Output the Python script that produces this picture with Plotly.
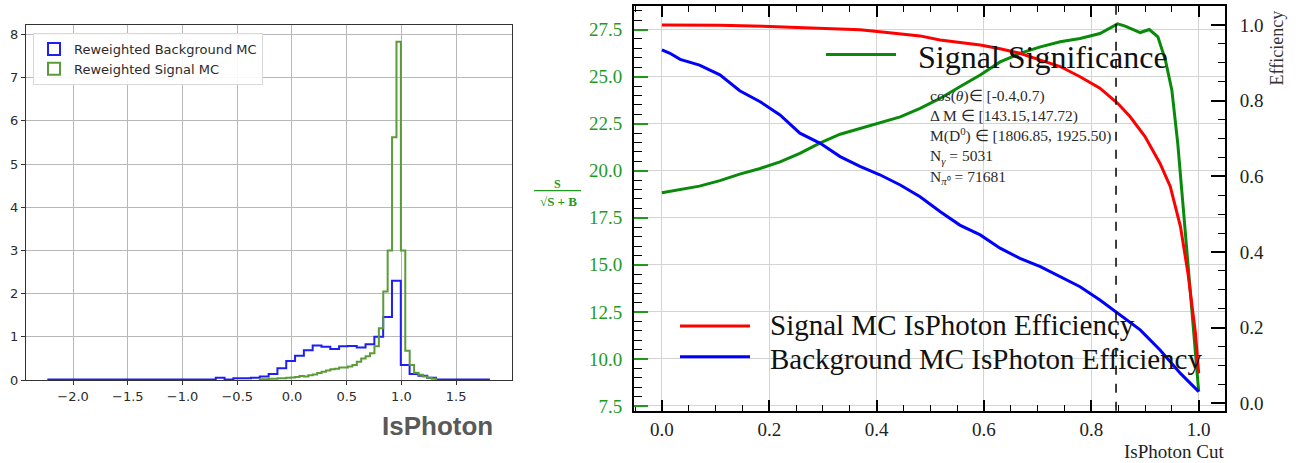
import plotly.graph_objects as go

W, H = 1303, 463

# ---------------- Left panel: IsPhoton distributions ----------------
bkg_first_edge = -2.226
bkg_bin_width = 0.0805
bkg_counts = [0.01] * 19 + [
    0.05, 0.01, 0.04, 0.04, 0.05, 0.08, 0.14, 0.27, 0.44, 0.56,
    0.69, 0.80, 0.77, 0.72, 0.78, 0.79, 0.75, 0.83, 1.00, 1.46,
    2.30, 0.35, 0.14, 0.10, 0.05,
] + [0.01] * 6

sig_first_edge = -0.2935
sig_bin_width = 0.04026
sig_counts = [
    0.02, 0.02, 0.03, 0.03, 0.04, 0.04, 0.05, 0.06, 0.07, 0.09,
    0.08, 0.11, 0.13, 0.16, 0.19, 0.22, 0.25, 0.26, 0.29, 0.29,
    0.31, 0.35, 0.42, 0.50, 0.55, 0.62, 0.78, 1.20, 2.05, 3.00,
    5.62, 7.83, 3.00, 0.68, 0.35, 0.17, 0.12, 0.08, 0.05, 0.03,
]

hist_x_ticks = [-2.0, -1.5, -1.0, -0.5, 0.0, 0.5, 1.0, 1.5]
hist_y_ticks = [0, 1, 2, 3, 4, 5, 6, 7, 8]

# ---------------- Right panel: cut scan ----------------
signif_cut = [0.000, 0.034, 0.070, 0.108, 0.145, 0.183, 0.220, 0.257, 0.295, 0.332,
              0.369, 0.406, 0.444, 0.481, 0.518, 0.555, 0.593, 0.630, 0.667, 0.705,
              0.742, 0.779, 0.816, 0.849, 0.863, 0.891, 0.908, 0.924, 0.938, 0.950,
              0.961, 0.971, 0.980, 0.990, 1.000]
signif_value = [18.83, 19.00, 19.18, 19.47, 19.82, 20.12, 20.47, 20.92, 21.48, 21.94,
                22.24, 22.54, 22.86, 23.31, 23.84, 24.46, 25.08, 25.78, 26.23, 26.58,
                26.85, 27.02, 27.29, 27.80, 27.68, 27.34, 27.50, 27.11, 25.87, 24.28,
                21.45, 18.10, 14.90, 11.54, 8.26]

sig_eff_cut = [0.000, 0.108, 0.201, 0.295, 0.369, 0.406, 0.444, 0.481, 0.518, 0.555,
               0.593, 0.630, 0.667, 0.705, 0.742, 0.779, 0.816, 0.849, 0.872, 0.900,
               0.928, 0.947, 0.966, 0.980, 0.994, 1.000]
sig_eff_value = [1.000, 0.999, 0.996, 0.991, 0.987, 0.982, 0.976, 0.971, 0.960, 0.953,
                 0.947, 0.937, 0.925, 0.907, 0.890, 0.863, 0.833, 0.793, 0.758, 0.705,
                 0.634, 0.573, 0.467, 0.344, 0.185, 0.079]

bkg_eff_cut = [0.000, 0.015, 0.034, 0.070, 0.108, 0.145, 0.183, 0.220, 0.257, 0.295,
               0.332, 0.369, 0.406, 0.444, 0.481, 0.518, 0.555, 0.593, 0.630, 0.667,
               0.705, 0.742, 0.779, 0.816, 0.849, 0.891, 0.928, 0.966, 1.000]
bkg_eff_value = [0.934, 0.925, 0.909, 0.894, 0.868, 0.826, 0.797, 0.762, 0.714, 0.687,
                 0.652, 0.626, 0.604, 0.577, 0.546, 0.507, 0.471, 0.445, 0.410, 0.383,
                 0.361, 0.335, 0.308, 0.273, 0.238, 0.194, 0.141, 0.079, 0.031]

best_cut = 0.846
cut_ticks = [0.0, 0.2, 0.4, 0.6, 0.8, 1.0]
signif_ticks = [7.5, 10.0, 12.5, 15.0, 17.5, 20.0, 22.5, 25.0, 27.5]
eff_ticks = [0.0, 0.2, 0.4, 0.6, 0.8, 1.0]

info_lines = [
    "cos(<i>θ</i>)∈ [-0.4,0.7)",
    "Δ M ∈ [143.15,147.72)",
    "M(D<sup>0</sup>) ∈ [1806.85, 1925.50)",
    "N<sub><i>γ</i></sub> = 5031",
    "N<sub><i>π</i>⁰</sub> = 71681",
]

BLUE_H = "#1f1ff5"
GREEN_H = "#5c9a3a"
SIG_GREEN = "#0a8a0a"
LABEL_GREEN = "#1f9a1f"
SERIF = "Liberation Serif"


def px(x):
    return x / W


def py(y):
    return 1 - y / H


def step_xy(first_edge, width, counts):
    edges = [first_edge + i * width for i in range(len(counts) + 1)]
    xs = [edges[0]] + edges[:-1] + [edges[-1], edges[-1]]
    ys = [0] + list(counts) + [counts[-1], 0]
    return xs, ys


fig = go.Figure()

bx, by = step_xy(bkg_first_edge, bkg_bin_width, bkg_counts)
gx, gy = step_xy(sig_first_edge, sig_bin_width, sig_counts)
fig.add_trace(go.Scatter(x=bx, y=by, mode="lines", line=dict(color=BLUE_H, width=2, shape="hv"),
                         showlegend=False, xaxis="x", yaxis="y", hoverinfo="skip"))
fig.add_trace(go.Scatter(x=gx, y=gy, mode="lines", line=dict(color=GREEN_H, width=2, shape="hv"),
                         showlegend=False, xaxis="x", yaxis="y", hoverinfo="skip"))
# legend entries (outlined patches, like a step histogram legend)
fig.add_trace(go.Bar(x=[None], y=[None], name="Reweighted Background MC",
                     marker=dict(color="rgba(255,255,255,0)", line=dict(color=BLUE_H, width=2)),
                     xaxis="x", yaxis="y", legend="legend"))
fig.add_trace(go.Bar(x=[None], y=[None], name="Reweighted Signal MC",
                     marker=dict(color="rgba(255,255,255,0)", line=dict(color=GREEN_H, width=2)),
                     xaxis="x", yaxis="y", legend="legend"))

fig.add_trace(go.Scatter(x=signif_cut, y=signif_value, mode="lines", line=dict(color=SIG_GREEN, width=3),
                         showlegend=False, xaxis="x2", yaxis="y2"))
fig.add_trace(go.Scatter(x=sig_eff_cut, y=sig_eff_value, mode="lines", line=dict(color="#ff0000", width=3),
                         showlegend=False, xaxis="x2", yaxis="y3"))
fig.add_trace(go.Scatter(x=bkg_eff_cut, y=bkg_eff_value, mode="lines", line=dict(color="#0000ff", width=3),
                         showlegend=False, xaxis="x2", yaxis="y3"))

left_axis_common = dict(
    ticks="outside", ticklen=4, tickcolor="#333", showgrid=True, gridcolor="#b8b8b8", gridwidth=1,
    showline=True, linecolor="#333", linewidth=1, mirror=True, zeroline=False, automargin=False,
    tickfont=dict(family="DejaVu Sans", size=13, color="#2b2b2b"),
)

fig.update_layout(
    width=W, height=H, margin=dict(l=0, r=0, t=0, b=0, pad=0), autosize=False,
    paper_bgcolor="white", plot_bgcolor="white",
    xaxis=dict(domain=[px(26), px(512)], range=[-2.43, 2.01], anchor="y", type="linear",
               tickvals=hist_x_ticks, tickformat=".1f", **left_axis_common),
    yaxis=dict(domain=[py(380), py(25)], range=[0, 8.22], anchor="x", type="linear",
               tickvals=hist_y_ticks, **left_axis_common),
    xaxis2=dict(domain=[px(634), px(1225)], range=[-0.052, 1.049], anchor="y2", automargin=False,
                tickmode="linear", tick0=cut_ticks[0], dtick=cut_ticks[1] - cut_ticks[0],
                tickformat=".1f", ticks="inside", ticklen=11, tickwidth=1.6, tickcolor="black",
                minor=dict(tickmode="linear", dtick=0.05, tick0=0, ticks="inside", ticklen=6,
                           tickwidth=1.4, tickcolor="black", showgrid=False),
                showgrid=True, gridcolor="#d4d4d4", gridwidth=1, showline=True, linecolor="black",
                linewidth=2, mirror="ticks", zeroline=False, ticklabelstandoff=0,
                tickfont=dict(family=SERIF, size=19, color="#222")),
    yaxis2=dict(domain=[py(410.7), py(6)], range=[7.25, 28.75], anchor="x2", automargin=False,
                tickmode="linear", tick0=signif_ticks[0], dtick=signif_ticks[1] - signif_ticks[0],
                tickformat=".1f", ticks="inside", ticklen=14, tickwidth=2, tickcolor=LABEL_GREEN,
                minor=dict(tickmode="linear", dtick=0.5, tick0=7.5, ticks="inside", ticklen=8,
                           tickwidth=1.4, tickcolor="black", showgrid=False),
                showgrid=True, gridcolor="#d4d4d4", gridwidth=1, showline=True, linecolor="black",
                linewidth=2, zeroline=False, ticklabelstandoff=6,
                tickfont=dict(family=SERIF, size=19, color=LABEL_GREEN)),
    yaxis3=dict(overlaying="y2", side="right", anchor="x2", range=[-0.0195, 1.05], automargin=False,
                tickmode="linear", tick0=eff_ticks[0], dtick=eff_ticks[1] - eff_ticks[0],
                tickformat=".1f", ticks="inside", ticklen=14, tickwidth=2, tickcolor="black",
                minor=dict(tickmode="linear", dtick=0.05, tick0=0, ticks="inside", ticklen=7,
                           tickwidth=1.4, tickcolor="black", showgrid=False),
                showgrid=False, showline=True, linecolor="black", linewidth=2, zeroline=False,
                ticklabelstandoff=9,
                tickfont=dict(family=SERIF, size=19, color="#222")),
    legend=dict(x=px(33), y=py(33), xanchor="left", yanchor="top", bgcolor="rgba(255,255,255,0.9)",
                bordercolor="#d8d8d8", borderwidth=1, tracegroupgap=0,
                font=dict(family="DejaVu Sans", size=13, color="#2b2b2b")),
    showlegend=True,
    bargap=0,
)

annotations = []
# left x title
annotations.append(dict(text="<b>IsPhoton</b>", x=px(437), y=py(426), xref="paper", yref="paper",
                        showarrow=False, xanchor="center", yanchor="middle",
                        font=dict(family="Liberation Sans", size=26, color="#595959")))
# right panel manual legends
annotations.append(dict(text="Signal Significance", x=px(916), y=py(57), xref="paper", yref="paper",
                        showarrow=False, xanchor="left", yanchor="middle",
                        font=dict(family=SERIF, size=32, color="#111")))
annotations.append(dict(text="Signal MC IsPhoton Efficiency", x=px(768), y=py(325), xref="paper",
                        yref="paper", showarrow=False, xanchor="left", yanchor="middle",
                        font=dict(family=SERIF, size=29, color="#111")))
annotations.append(dict(text="Background MC IsPhoton Efficiency", x=px(768), y=py(358.5), xref="paper",
                        yref="paper", showarrow=False, xanchor="left", yanchor="middle",
                        font=dict(family=SERIF, size=29, color="#111")))
# info box
annotations.append(dict(text="<br>".join(info_lines), x=px(928), y=py(85), xref="paper", yref="paper",
                        showarrow=False, xanchor="left", yanchor="top", align="left",
                        font=dict(family=SERIF, size=15.5, color="#2a2a2a")))
# left y title (fraction)
annotations.append(dict(text="<b>S</b>", x=px(557), y=py(184), xref="paper", yref="paper",
                        showarrow=False, xanchor="center", yanchor="middle",
                        font=dict(family=SERIF, size=12, color=LABEL_GREEN)))
annotations.append(dict(text="<b>√S + B</b>", x=px(558), y=py(201), xref="paper", yref="paper",
                        showarrow=False, xanchor="center", yanchor="middle",
                        font=dict(family=SERIF, size=13, color=LABEL_GREEN)))
# right y title
annotations.append(dict(text="Efficiency", x=px(1276), y=py(9), xref="paper", yref="paper",
                        showarrow=False, xanchor="center", yanchor="top", textangle=-90,
                        font=dict(family=SERIF, size=18, color="#333")))
# x title right
annotations.append(dict(text="IsPhoton Cut", x=px(1226), y=py(451), xref="paper", yref="paper",
                        showarrow=False, xanchor="right", yanchor="middle",
                        font=dict(family=SERIF, size=19, color="#222")))

shapes = [
    dict(type="line", xref="paper", yref="paper", x0=px(826), x1=px(896), y0=py(54.5), y1=py(54.5),
         line=dict(color=SIG_GREEN, width=3)),
    dict(type="line", xref="paper", yref="paper", x0=px(680), x1=px(750), y0=py(326), y1=py(326),
         line=dict(color="#ff0000", width=3)),
    dict(type="line", xref="paper", yref="paper", x0=px(680), x1=px(750), y0=py(356.7), y1=py(356.7),
         line=dict(color="#0000ff", width=3)),
    dict(type="line", xref="paper", yref="paper", x0=px(534), x1=px(581), y0=py(190.7), y1=py(190.7),
         line=dict(color=LABEL_GREEN, width=1.2)),
    dict(type="line", xref="x2", yref="y2 domain", x0=best_cut, x1=best_cut, y0=0, y1=1,
         line=dict(color="black", width=1.5, dash="dash")),
]

fig.update_layout(annotations=annotations, shapes=shapes)
fig.write_html("out.html", config={"displayModeBar": False},
               post_script="document.body.style.margin='0px';document.body.style.padding='0px';")
